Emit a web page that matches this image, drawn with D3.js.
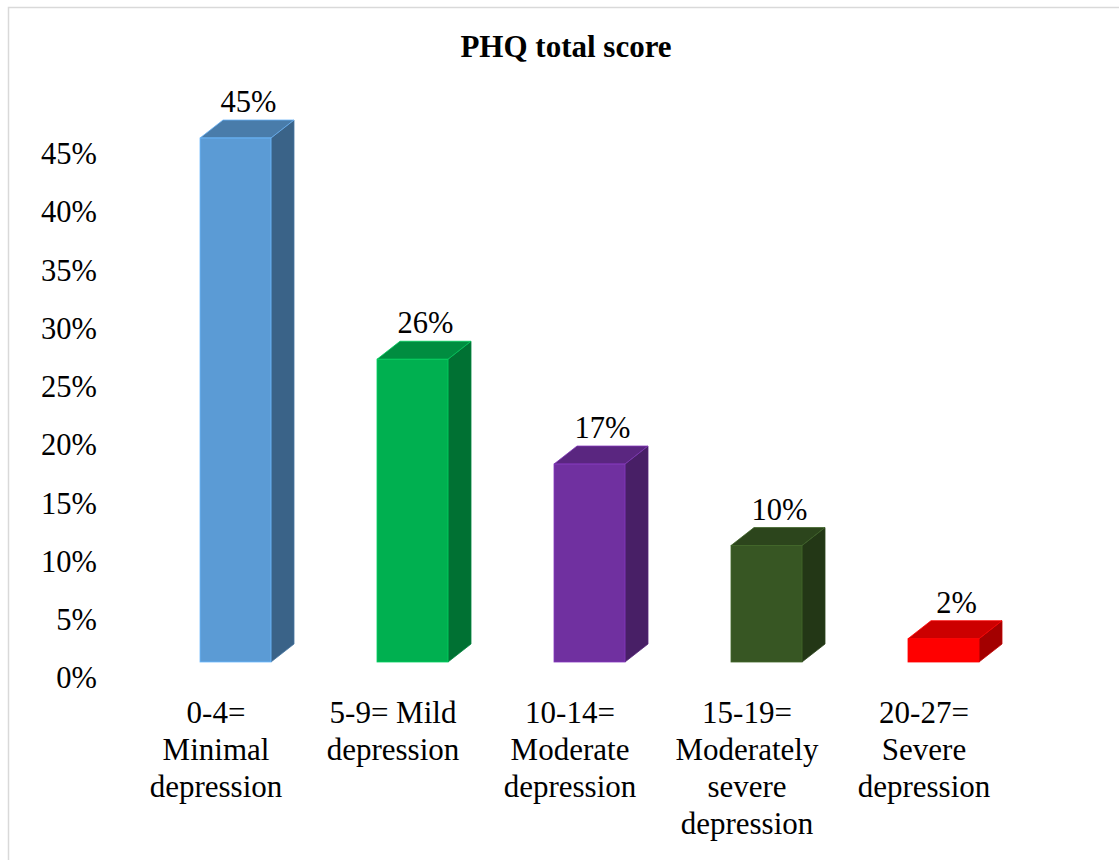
<!DOCTYPE html>
<html>
<head>
<meta charset="utf-8">
<script src="https://cdn.jsdelivr.net/npm/d3@7"></script>
<style>
  html, body { margin: 0; padding: 0; background: #fff; }
</style>
</head>
<body>
<svg id="chart" width="1119" height="860"></svg>
<script>
// PHQ total score distribution
const categories = [
  "0-4= Minimal depression",
  "5-9= Mild depression",
  "10-14= Moderate depression",
  "15-19= Moderately severe depression",
  "20-27= Severe depression"
];
const categoryLines = [
  ["0-4=", "Minimal", "depression"],
  ["5-9= Mild", "depression"],
  ["10-14=", "Moderate", "depression"],
  ["15-19=", "Moderately", "severe", "depression"],
  ["20-27=", "Severe", "depression"]
];
const values = [45, 26, 17, 10, 2];
const colors = ["#5B9BD5", "#00B050", "#7030A0", "#375623", "#FF0000"];
const yTicks = [0, 5, 10, 15, 20, 25, 30, 35, 40, 45];
const title = "PHQ total score";

const FONT = "Liberation Serif";
const svg = d3.select("#chart");

// chart area frame (open on the right and bottom)
svg.append("path")
  .attr("d", "M8.5,870 L8.5,7.5 L1130,7.5")
  .attr("fill", "none")
  .attr("stroke", "#D9D9D9")
  .attr("stroke-width", 1.5);

svg.append("text")
  .attr("x", 566).attr("y", 57)
  .attr("text-anchor", "middle")
  .style("font-family", FONT).style("font-size", "31px").style("font-weight", "bold")
  .style("fill", "#000")
  .text(title);

const x = d3.scaleBand().domain(categories).range([127.5, 1012.5]);
const y = d3.scaleLinear().domain([0, 45]).range([662, 138]);

// value axis: labels only, sitting on the back wall
const yAxis = d3.axisLeft(y).tickValues(yTicks).tickSize(0).tickPadding(0)
  .tickFormat(d => d + "%");
const gy = svg.append("g").attr("transform", "translate(97,15)").call(yAxis);
gy.select(".domain").remove();
gy.selectAll("text")
  .attr("dy", "0.35em")
  .style("font-family", FONT).style("font-size", "30.5px").style("fill", "#000");

// 3D columns
const depthX = 23, depthY = -18, frontW = 71, frontOff = -16;
const shade = (c, k) => {
  const r = d3.rgb(c);
  return d3.rgb(r.r * k, r.g * k, r.b * k).formatHex();
};

const bars = svg.append("g").selectAll("g").data(values).join("g");
bars.each(function (v, i) {
  const g = d3.select(this);
  const x0 = x(categories[i]) + x.bandwidth() / 2 + frontOff;
  const x1 = x0 + frontW;
  const yT = y(v), yB = y(0);
  const col = colors[i];
  // side face
  g.append("path")
    .attr("d", `M${x1},${yT} L${x1 + depthX},${yT + depthY} L${x1 + depthX},${yB + depthY} L${x1},${yB} Z`)
    .attr("fill", shade(col, 0.64))
    .attr("stroke", shade(col, 0.75)).attr("stroke-width", 0.8);
  // top face
  g.append("path")
    .attr("d", `M${x0},${yT} L${x0 + depthX},${yT + depthY} L${x1 + depthX},${yT + depthY} L${x1},${yT} Z`)
    .attr("fill", shade(col, 0.8))
    .attr("stroke", d3.rgb(col).brighter(0.4).formatHex()).attr("stroke-width", 0.8);
  // front face
  g.append("rect")
    .attr("x", x0).attr("y", yT)
    .attr("width", frontW).attr("height", yB - yT)
    .attr("fill", col)
    .attr("stroke", d3.rgb(col).brighter(0.5).formatHex()).attr("stroke-width", 0.8);
  // value label
  g.append("text")
    .attr("x", x0 + frontW / 2 + 13)
    .attr("y", yT - 26)
    .attr("text-anchor", "middle")
    .style("font-family", FONT).style("font-size", "30.5px").style("fill", "#000")
    .text(v + "%");
});

// category labels
const cat = svg.append("g").selectAll("text").data(categoryLines).join("text")
  .attr("text-anchor", "middle")
  .style("font-family", FONT).style("font-size", "31px").style("fill", "#000")
  .attr("x", (d, i) => x(categories[i]) + x.bandwidth() / 2)
  .attr("y", 723);
cat.selectAll("tspan").data(d => d).join("tspan")
  .attr("x", function () { return d3.select(this.parentNode).attr("x"); })
  .attr("dy", (d, j) => j === 0 ? 0 : 37)
  .text(d => d);
</script>
</body>
</html>
